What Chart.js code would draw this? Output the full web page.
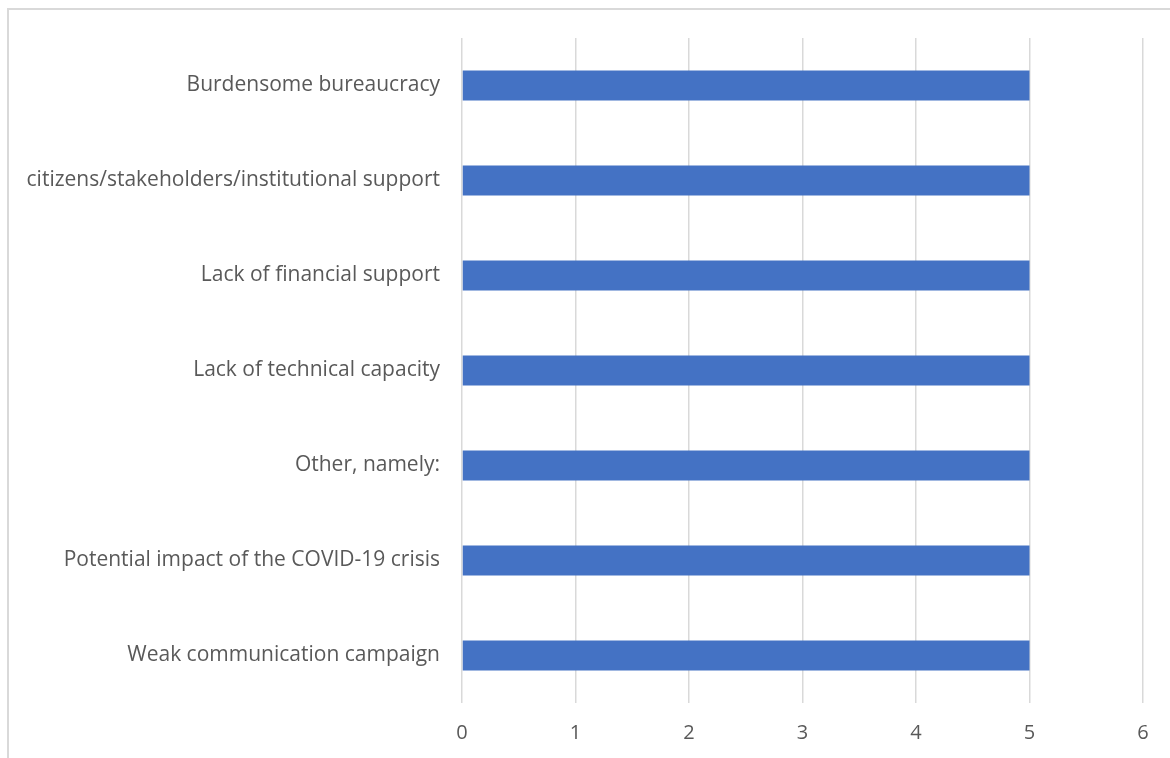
<!DOCTYPE html>
<html>
<head>
<meta charset="utf-8">
<script src="https://cdn.jsdelivr.net/npm/chart.js@4"></script>
<style>
  html, body { margin: 0; padding: 0; background: #fff; overflow: hidden; }
  #frame { position: absolute; left: 7px; top: 8px; width: 1200px; height: 800px; border: 2px solid #d9d9d9; box-sizing: border-box; }
  #wrap { position: absolute; left: 0; top: 0; width: 1170px; height: 758px; }
</style>
</head>
<body>
<div id="frame"></div>
<div id="wrap"><canvas id="chart"></canvas></div>
<script>
// categories, top to bottom as shown
const categories = [
  'Burdensome bureaucracy',
  'citizens/stakeholders/institutional support',
  'Lack of financial support',
  'Lack of technical capacity',
  'Other, namely:',
  'Potential impact of the COVID-19 crisis',
  'Weak communication campaign',
];
const counts = [5, 5, 5, 5, 5, 5, 5];
const xTicks = [0, 1, 2, 3, 4, 5, 6];

const catFont = { family: "'Open Sans', sans-serif", size: 21 };
const tickFont = { family: "'Open Sans', sans-serif", size: 20 };

new Chart(document.getElementById('chart'), {
  type: 'bar',
  data: {
    labels: categories,
    datasets: [{
      data: counts,
      backgroundColor: '#4472C4',
      categoryPercentage: 1,
      barPercentage: 0.316,
    }],
  },
  options: {
    indexAxis: 'y',
    responsive: true,
    maintainAspectRatio: false,
    animation: false,
    layout: { padding: { left: 0, top: 38, right: 27, bottom: 5 } },
    plugins: { legend: { display: false }, tooltip: { enabled: false } },
    scales: {
      x: {
        min: xTicks[0],
        max: xTicks[xTicks.length - 1],
        afterBuildTicks: (s) => { s.ticks = xTicks.map((v) => ({ value: v })); },
        afterFit: (s) => { s.height = 50; },
        border: { display: false },
        grid: { color: '#d9d9d9', lineWidth: 1.5, drawTicks: false },
        ticks: { color: '#595959', font: tickFont, padding: 18 },
      },
      y: {
        afterFit: (s) => { s.width = 462; },
        border: { display: false },
        grid: { display: false, drawTicks: false },
        ticks: { color: '#595959', font: catFont, padding: 22 },
      },
    },
  },
});
</script>
</body>
</html>
